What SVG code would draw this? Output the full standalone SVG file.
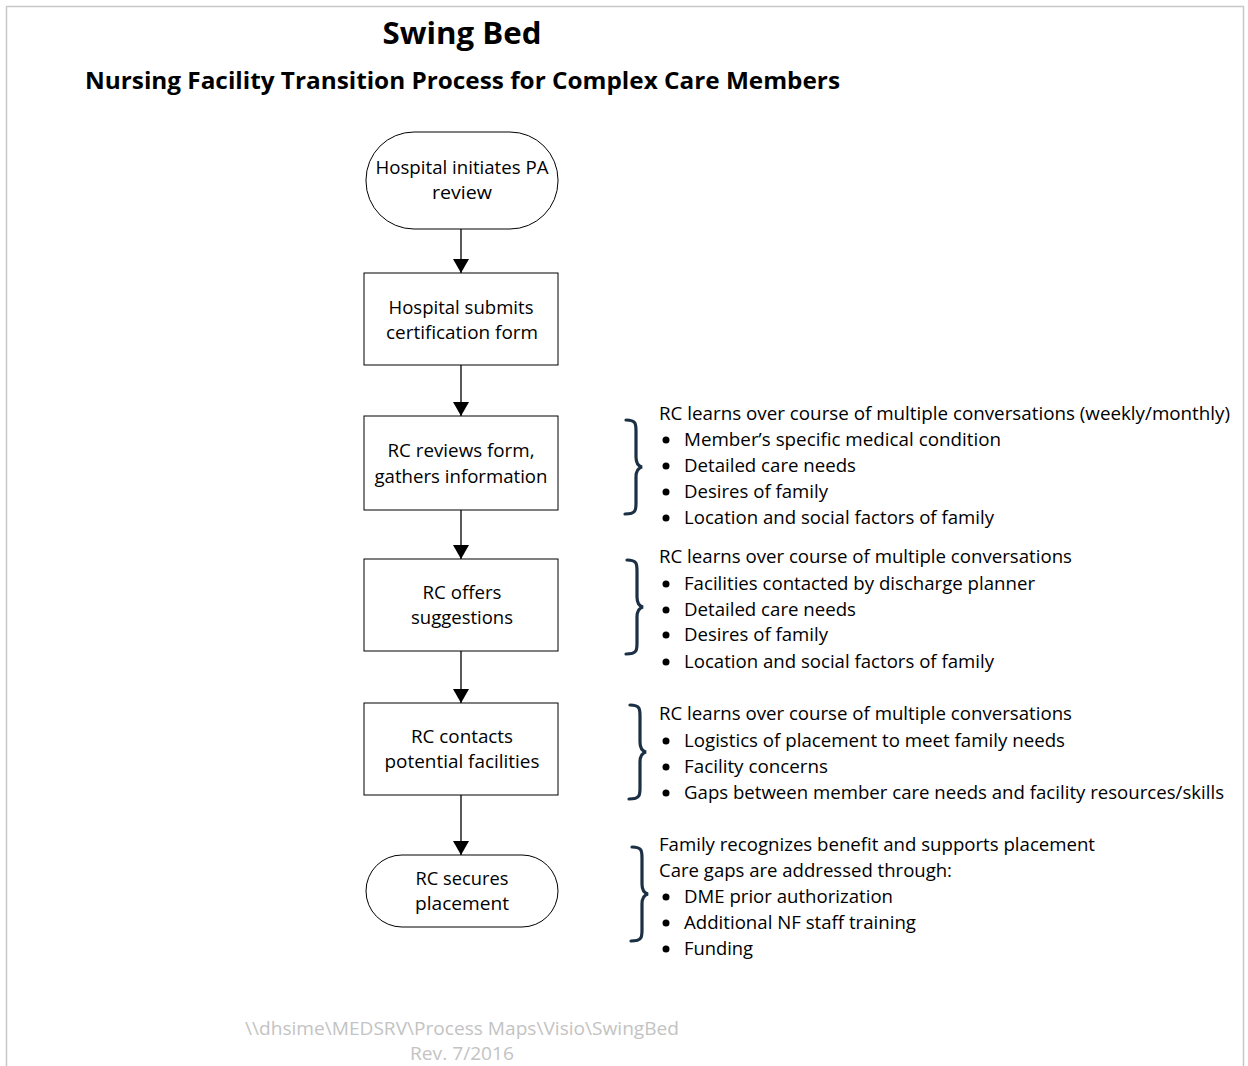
<svg xmlns="http://www.w3.org/2000/svg" width="1248" height="1066" viewBox="0 0 1248 1066">
<defs>
<style>
.t{font-family:"Open Sans","Noto Sans",sans-serif;font-size:18.5px;fill:#000}
.n{text-anchor:middle}
.ttl{font-family:"Open Sans","Noto Sans",sans-serif;font-weight:bold;fill:#000}
.ft{font-family:"Open Sans","Noto Sans",sans-serif;font-size:18.5px;fill:#c3c3c3;text-anchor:middle}
.box{fill:#fff;stroke:#000;stroke-width:1}
.edge{stroke:#000;stroke-width:1.3;fill:none}
.brace{fill:none;stroke:#1b2f45;stroke-width:3.2;stroke-linecap:round}
</style>
<marker id="arr" viewBox="0 0 14 16" refX="14" refY="8" markerWidth="14" markerHeight="16" markerUnits="userSpaceOnUse" orient="auto">
<path d="M0,0 L14,8 L0,16 Z" fill="#000"/>
</marker>
<path id="br" class="brace" d="M0,0 C10,0 10,4 10,11 L10,37 C10,43 12,46 16,47 C12,48 10,51 10,57 L10,83 C10,90 10,94 -1,94"/>
</defs>
<rect x="0" y="0" width="1248" height="1066" fill="#fff"/>
<path d="M6.5,1066 L6.5,6.5 L1243.5,6.5 L1243.5,1066" fill="none" stroke="#c8c8c8" stroke-width="1.5"/>

<g id="title">
<text class="ttl" x="462" y="44" font-size="30" text-anchor="middle" textLength="159" lengthAdjust="spacingAndGlyphs">Swing Bed</text>
<text class="ttl" x="85" y="89" font-size="23.5" textLength="755" lengthAdjust="spacingAndGlyphs">Nursing Facility Transition Process for Complex Care Members</text>
</g>

<g id="connectors">
<line class="edge" x1="461" y1="229" x2="461" y2="273" marker-end="url(#arr)"/>
<line class="edge" x1="461" y1="365" x2="461" y2="416" marker-end="url(#arr)"/>
<line class="edge" x1="461" y1="510" x2="461" y2="559" marker-end="url(#arr)"/>
<line class="edge" x1="461" y1="651" x2="461" y2="703" marker-end="url(#arr)"/>
<line class="edge" x1="461" y1="795" x2="461" y2="855" marker-end="url(#arr)"/>
</g>

<g id="n1">
<rect class="box" x="366" y="132" width="192" height="97" rx="48" ry="48"/>
<text class="t n" x="462" y="174" textLength="173" lengthAdjust="spacingAndGlyphs">Hospital initiates PA</text>
<text class="t n" x="462" y="199" textLength="60" lengthAdjust="spacingAndGlyphs">review</text>
</g>
<g id="n2">
<rect class="box" x="364" y="273" width="194" height="92"/>
<text class="t n" x="461" y="314" textLength="145" lengthAdjust="spacingAndGlyphs">Hospital submits</text>
<text class="t n" x="462" y="339" textLength="152" lengthAdjust="spacingAndGlyphs">certification form</text>
</g>
<g id="n3">
<rect class="box" x="364" y="416" width="194" height="94"/>
<text class="t n" x="461" y="457" textLength="147" lengthAdjust="spacingAndGlyphs">RC reviews form,</text>
<text class="t n" x="461" y="483" textLength="173" lengthAdjust="spacingAndGlyphs">gathers information</text>
</g>
<g id="n4">
<rect class="box" x="364" y="559" width="194" height="92"/>
<text class="t n" x="462" y="599" textLength="79" lengthAdjust="spacingAndGlyphs">RC offers</text>
<text class="t n" x="462" y="624" textLength="102" lengthAdjust="spacingAndGlyphs">suggestions</text>
</g>
<g id="n5">
<rect class="box" x="364" y="703" width="194" height="92"/>
<text class="t n" x="462" y="743" textLength="102" lengthAdjust="spacingAndGlyphs">RC contacts</text>
<text class="t n" x="462" y="768" textLength="155" lengthAdjust="spacingAndGlyphs">potential facilities</text>
</g>
<g id="n6">
<rect class="box" x="366" y="855" width="192" height="72" rx="36" ry="36"/>
<text class="t n" x="462" y="885" textLength="93" lengthAdjust="spacingAndGlyphs">RC secures</text>
<text class="t n" x="462" y="910" textLength="94" lengthAdjust="spacingAndGlyphs">placement</text>
</g>

<g id="note1">
<use href="#br" x="626" y="420"/>
<text class="t" x="659" y="420" textLength="571" lengthAdjust="spacingAndGlyphs">RC learns over course of multiple conversations (weekly/monthly)</text>
<circle cx="666" cy="440" r="3.5"/><text class="t" x="684" y="446" textLength="317" lengthAdjust="spacingAndGlyphs">Member’s specific medical condition</text>
<circle cx="666" cy="466" r="3.5"/><text class="t" x="684" y="472" textLength="172" lengthAdjust="spacingAndGlyphs">Detailed care needs</text>
<circle cx="666" cy="492" r="3.5"/><text class="t" x="684" y="498" textLength="144" lengthAdjust="spacingAndGlyphs">Desires of family</text>
<circle cx="666" cy="518" r="3.5"/><text class="t" x="684" y="524" textLength="310" lengthAdjust="spacingAndGlyphs">Location and social factors of family</text>
</g>
<g id="note2">
<use href="#br" x="627" y="560"/>
<text class="t" x="659" y="563" textLength="413" lengthAdjust="spacingAndGlyphs">RC learns over course of multiple conversations</text>
<circle cx="666" cy="584" r="3.5"/><text class="t" x="684" y="590" textLength="351" lengthAdjust="spacingAndGlyphs">Facilities contacted by discharge planner</text>
<circle cx="666" cy="610" r="3.5"/><text class="t" x="684" y="616" textLength="172" lengthAdjust="spacingAndGlyphs">Detailed care needs</text>
<circle cx="666" cy="635" r="3.5"/><text class="t" x="684" y="641" textLength="144" lengthAdjust="spacingAndGlyphs">Desires of family</text>
<circle cx="666" cy="662" r="3.5"/><text class="t" x="684" y="668" textLength="310" lengthAdjust="spacingAndGlyphs">Location and social factors of family</text>
</g>
<g id="note3">
<use href="#br" x="630" y="705"/>
<text class="t" x="659" y="720" textLength="413" lengthAdjust="spacingAndGlyphs">RC learns over course of multiple conversations</text>
<circle cx="666" cy="741" r="3.5"/><text class="t" x="684" y="747" textLength="381" lengthAdjust="spacingAndGlyphs">Logistics of placement to meet family needs</text>
<circle cx="666" cy="767" r="3.5"/><text class="t" x="684" y="773" textLength="144" lengthAdjust="spacingAndGlyphs">Facility concerns</text>
<circle cx="666" cy="793" r="3.5"/><text class="t" x="684" y="799" textLength="540" lengthAdjust="spacingAndGlyphs">Gaps between member care needs and facility resources/skills</text>
</g>
<g id="note4">
<use href="#br" x="632" y="847"/>
<text class="t" x="659" y="851" textLength="436" lengthAdjust="spacingAndGlyphs">Family recognizes benefit and supports placement</text>
<text class="t" x="659" y="877" textLength="293" lengthAdjust="spacingAndGlyphs">Care gaps are addressed through:</text>
<circle cx="666" cy="897" r="3.5"/><text class="t" x="684" y="903" textLength="209" lengthAdjust="spacingAndGlyphs">DME prior authorization</text>
<circle cx="666" cy="923" r="3.5"/><text class="t" x="684" y="929" textLength="232" lengthAdjust="spacingAndGlyphs">Additional NF staff training</text>
<circle cx="666" cy="949" r="3.5"/><text class="t" x="684" y="955" textLength="69" lengthAdjust="spacingAndGlyphs">Funding</text>
</g>

<g id="footer">
<text class="ft" x="462" y="1035" textLength="434" lengthAdjust="spacingAndGlyphs">\\dhsime\MEDSRV\Process Maps\Visio\SwingBed</text>
<text class="ft" x="462" y="1060" textLength="104" lengthAdjust="spacingAndGlyphs">Rev. 7/2016</text>
</g>
</svg>
